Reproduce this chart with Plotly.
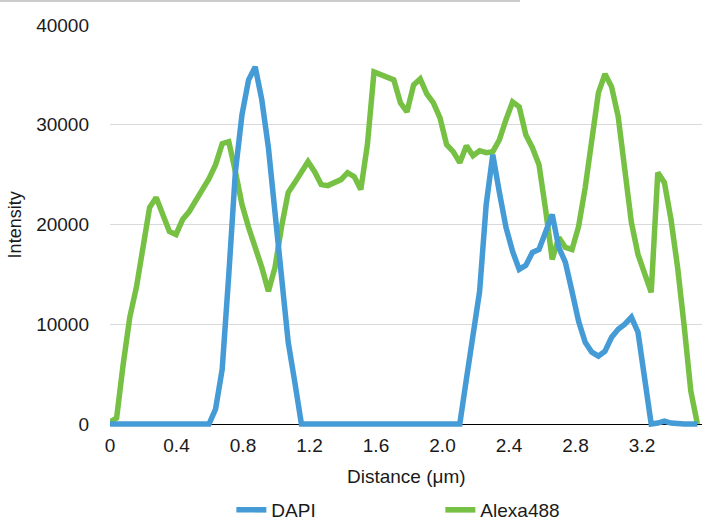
import plotly.graph_objects as go

# sampling positions along the profile (µm)
n_points = 90
step_um = 0.0397
distance = [round(i * step_um, 4) for i in range(n_points)]

dapi = [
    0, 0, 0, 0, 0, 0, 0, 0, 0, 0,
    0, 0, 0, 0, 0, 0, 1500, 5500, 15000, 25300,
    31000, 34500, 35800, 32500, 27700, 21500, 14200, 8200, 4200, 0,
    0, 0, 0, 0, 0, 0, 0, 0, 0, 0,
    0, 0, 0, 0, 0, 0, 0, 0, 0, 0,
    0, 0, 0, 0, 4500, 8800, 13300, 22000, 27000, 23200,
    19700, 17300, 15500, 15900, 17200, 17500, 19200, 21000, 17700, 16200,
    13300, 10300, 8200, 7200, 6800, 7300, 8700, 9500, 10000, 10700,
    9200, 4500, 0, 100, 300, 100, 0, 0, 0, 0,
]

alexa488 = [
    200, 600, 6000, 10700, 13700, 18000, 21700, 22700, 20800, 19300,
    19000, 20500, 21300, 22300, 23500, 24600, 26000, 28100, 28300, 25300,
    22000, 19700, 17800, 15700, 13300, 15700, 19800, 23200, 24200, 25200,
    26300, 25300, 24000, 23900, 24200, 24500, 25200, 24800, 23500, 28000,
    35300, 35000, 34700, 34500, 32200, 31300, 34000, 34600, 33100, 32200,
    30700, 28000, 27300, 26200, 27900, 26900, 27400, 27200, 27300, 28500,
    30500, 32300, 31800, 29000, 27700, 26000, 21500, 16500, 18700, 17700,
    17500, 19800, 23700, 28300, 33200, 35100, 33800, 30800, 25800, 20200,
    17000, 15200, 13200, 25200, 24200, 20500, 15700, 9800, 3300, 0,
]

x_tick_vals = [0, 0.4, 0.8, 1.2, 1.6, 2.0, 2.4, 2.8, 3.2]
x_tick_text = ["0", "0.4", "0.8", "1.2", "1.6", "2.0", "2.4", "2.8", "3.2"]
y_tick_vals = [0, 10000, 20000, 30000, 40000]

BLUE = "#449bd6"
GREEN = "#76c043"
FONT = "Liberation Sans, Arial, sans-serif"
TXT = "#1a1a1a"

fig = go.Figure()
fig.add_trace(go.Scatter(
    x=distance, y=alexa488, mode="lines", name="Alexa488",
    line=dict(color=GREEN, width=5.5), legendrank=2,
))
fig.add_trace(go.Scatter(
    x=distance, y=dapi, mode="lines", name="DAPI",
    line=dict(color=BLUE, width=5.5), legendrank=1,
))

fig.update_layout(
    width=703, height=529,
    margin=dict(l=110, r=1, t=25, b=101),
    paper_bgcolor="white", plot_bgcolor="white",
    font=dict(family=FONT, size=19, color=TXT),
    showlegend=True,
    legend=dict(
        orientation="h", x=0.205, xanchor="left", y=-0.2035, yanchor="middle",
        font=dict(size=19, color=TXT), entrywidth=164, entrywidthmode="pixels",
        bgcolor="rgba(0,0,0,0)", traceorder="normal",
    ),
    xaxis=dict(
        range=[0, 3.561], tickvals=x_tick_vals, ticktext=x_tick_text,
        showgrid=False, zeroline=False, showline=False, ticks="",
        tickfont=dict(size=19, color=TXT), ticklabelstandoff=5,
    ),
    yaxis=dict(
        range=[-300, 40000], tickvals=y_tick_vals, tickformat="d",
        showgrid=True, gridcolor="#d9d9d9", gridwidth=1,
        zeroline=True, zerolinecolor="#000000", zerolinewidth=1,
        showline=False, ticks="", tickfont=dict(size=19, color=TXT),
        ticklabelstandoff=20,
    ),
    annotations=[
        dict(text="Distance (μm)", xref="paper", yref="paper", x=0.5, y=-0.124,
             xanchor="center", yanchor="middle", showarrow=False,
             font=dict(size=19, color=TXT)),
        dict(text="Intensity", xref="paper", yref="paper", x=-0.1605, y=0.504,
             xanchor="center", yanchor="middle", textangle=-90, showarrow=False,
             font=dict(size=18, color=TXT)),
    ],
    shapes=[
        dict(type="line", xref="paper", yref="paper", x0=-0.1858, x1=0.6926,
             y0=1.0596, y1=1.0596, line=dict(color="#cccccc", width=2)),
    ],
)

fig.write_html("out.html", config={"displayModeBar": False},
               post_script="document.body.style.margin='0';")
